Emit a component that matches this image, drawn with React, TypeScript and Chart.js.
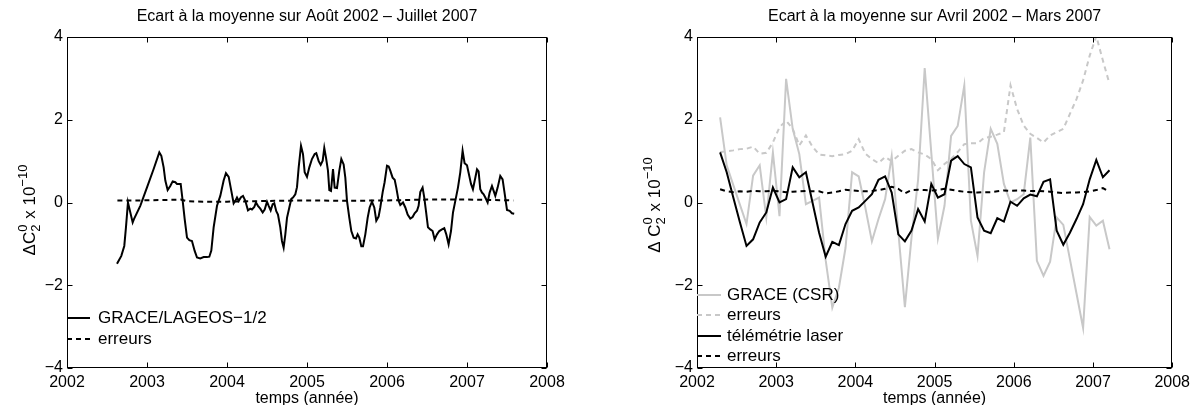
import React, { useEffect, useRef } from "react";
import { Chart, registerables } from "chart.js";

Chart.register(...registerables);

const FONT = '"Liberation Sans", Arial, Helvetica, sans-serif';

// ---------- shared axes ----------
const xTickYears = [2002, 2003, 2004, 2005, 2006, 2007, 2008];
const yTickValues = [-4, -2, 0, 2, 4];

// ---------- left chart: GRACE/LAGEOS-1/2 (Août 2002 – Juillet 2007) ----------
const leftTitle = "Ecart à la moyenne sur Août 2002 – Juillet 2007";
const leftSeriesLabel = "GRACE/LAGEOS−1/2";
const leftYears = [
  2002.625, 2002.679, 2002.716, 2002.737, 2002.762, 2002.821, 2002.837, 2002.916, 2002.999, 2003.083,
  2003.154, 2003.179, 2003.208, 2003.229, 2003.258, 2003.291, 2003.321, 2003.354, 2003.375, 2003.421,
  2003.446, 2003.471, 2003.5, 2003.529, 2003.562, 2003.596, 2003.625, 2003.666, 2003.708, 2003.75,
  2003.779, 2003.804, 2003.833, 2003.875, 2003.916, 2003.958, 2003.987, 2004.021, 2004.054, 2004.083,
  2004.104, 2004.125, 2004.146, 2004.175, 2004.2, 2004.229, 2004.262, 2004.291, 2004.312, 2004.341,
  2004.362, 2004.387, 2004.416, 2004.446, 2004.471, 2004.5, 2004.521, 2004.546, 2004.571, 2004.591,
  2004.616, 2004.637, 2004.666, 2004.687, 2004.708, 2004.729, 2004.75, 2004.779, 2004.804, 2004.825,
  2004.854, 2004.875, 2004.896, 2004.925, 2004.95, 2004.971, 2005.0, 2005.029, 2005.062, 2005.096,
  2005.116, 2005.146, 2005.171, 2005.196, 2005.216, 2005.237, 2005.262, 2005.279, 2005.3, 2005.325,
  2005.346, 2005.375, 2005.404, 2005.429, 2005.458, 2005.479, 2005.5, 2005.529, 2005.554, 2005.583,
  2005.612, 2005.633, 2005.654, 2005.679, 2005.7, 2005.729, 2005.758, 2005.783, 2005.812, 2005.841,
  2005.866, 2005.895, 2005.916, 2005.946, 2005.97, 2006.0, 2006.021, 2006.041, 2006.07, 2006.096,
  2006.116, 2006.145, 2006.166, 2006.2, 2006.229, 2006.258, 2006.291, 2006.32, 2006.345, 2006.375,
  2006.395, 2006.416, 2006.445, 2006.466, 2006.487, 2006.512, 2006.541, 2006.57, 2006.595, 2006.625,
  2006.654, 2006.687, 2006.716, 2006.741, 2006.77, 2006.8, 2006.825, 2006.854, 2006.887, 2006.916,
  2006.945, 2006.97, 2007.0, 2007.02, 2007.05, 2007.074, 2007.104, 2007.125, 2007.145, 2007.166,
  2007.187, 2007.208, 2007.229, 2007.258, 2007.283, 2007.312, 2007.333, 2007.354, 2007.383, 2007.416,
  2007.445, 2007.466, 2007.5, 2007.533, 2007.562, 2007.59,
];
const leftValues = [
  -1.48, -1.29, -1.05, -0.6, 0.0, -0.48, -0.4, -0.08, 0.36, 0.81,
  1.21, 1.13, 0.85, 0.53, 0.3, 0.4, 0.51, 0.49, 0.45, 0.45,
  0.04, -0.4, -0.85, -0.91, -0.93, -1.17, -1.33, -1.35, -1.32, -1.32,
  -1.31, -1.16, -0.6, -0.08, 0.16, 0.53, 0.71, 0.62, 0.28, -0.02,
  0.04, 0.12, 0.04, 0.13, 0.16, 0.04, -0.19, -0.15, -0.17, -0.11,
  0.0, -0.08, -0.15, -0.24, -0.17, 0.02, -0.08, -0.19, -0.04, -0.02,
  -0.21, -0.29, -0.6, -0.93, -1.09, -0.77, -0.37, -0.12, 0.09, 0.12,
  0.2, 0.37, 0.85, 1.37, 1.17, 0.73, 0.62, 0.85, 1.05, 1.17,
  1.19, 1.0, 0.91, 1.01, 1.32, 1.09, 0.77, 0.3, 0.28, 0.81,
  0.36, 0.35, 0.77, 1.05, 0.92, 0.6, 0.04, -0.37, -0.69, -0.85,
  -0.87, -0.77, -0.85, -1.06, -1.06, -0.77, -0.37, -0.12, 0.02, -0.12,
  -0.44, -0.34, -0.12, 0.25, 0.49, 0.89, 0.87, 0.77, 0.6, 0.55,
  0.36, 0.04, -0.06, 0.0, -0.12, -0.29, -0.39, -0.35, -0.26, -0.2,
  -0.08, 0.25, 0.36, 0.12, -0.2, -0.6, -0.65, -0.69, -0.89, -0.77,
  -0.69, -0.65, -0.62, -0.77, -1.01, -0.69, -0.24, 0.04, 0.36, 0.73,
  1.25, 0.95, 0.9, 0.72, 0.45, 0.32, 0.6, 0.8, 0.75, 0.32,
  0.24, 0.2, 0.12, 0.0, 0.24, 0.4, 0.28, 0.16, 0.36, 0.64,
  0.56, 0.28, -0.18, -0.2, -0.26, -0.27,
];
const leftErrYears = [2002.63, 2002.9, 2003.2, 2003.42, 2003.5, 2003.7, 2004.0, 2004.3, 2004.6, 2005.0, 2005.5, 2006.0, 2006.5, 2007.0, 2007.58];
const leftErrValues = [0.05, 0.05, 0.06, 0.07, 0.03, 0.02, 0.02, 0.03, 0.04, 0.05, 0.04, 0.05, 0.07, 0.07, 0.05];

// ---------- right chart: monthly, Avril 2002 – Mars 2007 ----------
const rightTitle = "Ecart à la moyenne sur Avril 2002 – Mars 2007";
const rightFirstYear = 2002;
const rightFirstMonth = 4; // April
const graceValues = [
  2.06, 0.9, 0.42, -0.05, -0.52, 0.65, 0.9, -0.36, 1.21, -0.33,
  2.99, 1.78, 1.17, -0.04, 0.04, 0.12, -1.4, -2.54, -2.06, -1.1,
  0.73, 0.63, -0.12, -0.94, -0.4, 0.08, 1.12, -0.7, -2.53, -0.85,
  0.55, 3.25, 1.2, -0.87, -0.08, 1.61, 1.85, 2.83, -0.44, -1.29,
  0.73, 1.78, 1.42, 0.45, 0.0, 0.08, 0.2, 1.57, -1.41, -1.77,
  -1.43, -0.36, -0.54, -1.37, -2.2, -3.03, -0.35, -0.56, -0.44, -1.13,
];
const graceErrors = [
  1.22, 1.24, 1.26, 1.29, 1.3, 1.35, 1.18, 1.2, 1.45, 1.82,
  1.98, 1.78, 1.38, 1.62, 1.35, 1.16, 1.14, 1.12, 1.15, 1.17,
  1.25, 1.53, 1.18, 1.05, 0.95, 1.1, 1.0, 1.13, 1.25, 1.29,
  1.21, 1.16, 1.05, 0.78, 0.93, 1.05, 1.22, 1.41, 1.43, 1.43,
  1.56, 1.59, 1.64, 1.7, 2.83, 2.26, 1.86, 1.66, 1.56, 1.45,
  1.62, 1.7, 1.78, 2.14, 2.5, 2.95, 3.55, 4.02, 3.43, 2.87,
];
const laserValues = [
  1.21, 0.73, 0.12, -0.48, -1.05, -0.89, -0.48, -0.24, 0.36, 0.0,
  0.08, 0.85, 0.61, 0.73, 0.0, -0.73, -1.31, -0.95, -1.03, -0.52,
  -0.2, -0.12, 0.04, 0.2, 0.55, 0.63, 0.24, -0.77, -0.94, -0.68,
  -0.16, -0.46, 0.45, 0.12, 0.2, 1.01, 1.12, 0.93, 0.85, -0.36,
  -0.68, -0.74, -0.38, -0.46, 0.02, -0.08, 0.1, 0.19, 0.15, 0.5,
  0.56, -0.68, -1.02, -0.73, -0.4, -0.04, 0.56, 1.03, 0.61, 0.78,
];
const laserErrors = [
  0.32, 0.27, 0.25, 0.27, 0.26, 0.28, 0.27, 0.27, 0.28, 0.27,
  0.25, 0.26, 0.27, 0.28, 0.27, 0.27, 0.22, 0.24, 0.27, 0.31,
  0.29, 0.28, 0.27, 0.28, 0.3, 0.33, 0.38, 0.33, 0.22, 0.3,
  0.31, 0.3, 0.29, 0.3, 0.33, 0.31, 0.28, 0.26, 0.25, 0.24,
  0.25, 0.25, 0.27, 0.29, 0.28, 0.29, 0.29, 0.28, 0.28, 0.27,
  0.26, 0.24, 0.23, 0.24, 0.24, 0.25, 0.27, 0.3, 0.35, 0.26,
];
const rightLabels = ["GRACE (CSR)", "erreurs", "télémétrie laser", "erreurs"];

// mid-month decimal year for monthly samples
const monthYears = graceValues.map((_, i) => rightFirstYear + (rightFirstMonth - 1 + i + 0.5) / 12);

const pts = (xs: number[], ys: number[]) => ys.map((y, i) => ({ x: xs[i], y }));

const GRAY = "#c8c8c8";
const BLACK = "#000000";

// ---------- decoration plugin (Matlab-like box, inward ticks, title, y label, legend) ----------
const decorPlugin = {
  id: "decor",
  afterDraw(chart: any, _args: any, o: any) {
    const { ctx, chartArea: a, scales } = chart;
    ctx.save();
    // frame
    const L = Math.round(a.left) + 0.5;
    const R = Math.round(a.right) - 0.5;
    const T = Math.round(a.top) + 0.5;
    const B = Math.round(a.bottom) - 0.5;
    ctx.strokeStyle = "#000";
    ctx.lineWidth = 1;
    ctx.setLineDash([]);
    ctx.strokeRect(L, T, R - L, B - T);
    const tl = 5;
    ctx.beginPath();
    for (const t of scales.x.ticks) {
      const px = Math.round(scales.x.getPixelForValue(t.value)) + 0.5;
      ctx.moveTo(px, B);
      ctx.lineTo(px, B - tl);
      ctx.moveTo(px, T);
      ctx.lineTo(px, T + tl);
    }
    for (const t of scales.y.ticks) {
      const py = Math.round(scales.y.getPixelForValue(t.value)) + 0.5;
      ctx.moveTo(L, py);
      ctx.lineTo(L + tl, py);
      ctx.moveTo(R, py);
      ctx.lineTo(R - tl, py);
    }
    ctx.stroke();

    // title
    ctx.fillStyle = "#000";
    ctx.font = `16px ${FONT}`;
    ctx.textAlign = "center";
    ctx.textBaseline = "alphabetic";
    ctx.fillText(o.title, (a.left + a.right) / 2, o.titleY);

    // y label: Δ C^0_2 x 10^-10 (rotated)
    const main = `17px ${FONT}`;
    const small = `13px ${FONT}`;
    ctx.font = main;
    const w1 = ctx.measureText(o.deltaC).width;
    const w3 = ctx.measureText(" x 10").width;
    ctx.font = small;
    const w2 = Math.max(ctx.measureText("0").width, ctx.measureText("2").width);
    const w4 = ctx.measureText("−10").width;
    const total = w1 + w2 + 1 + w3 + w4;
    ctx.translate(o.yLabelX, o.yLabelY);
    ctx.rotate(-Math.PI / 2);
    ctx.textAlign = "left";
    let cx = -total / 2;
    ctx.font = main;
    ctx.fillText(o.deltaC, cx, 0);
    cx += w1;
    ctx.font = small;
    ctx.fillText("0", cx, -8);
    ctx.fillText("2", cx, 5);
    cx += w2 + 1;
    ctx.font = main;
    ctx.fillText(" x 10", cx, 0);
    cx += w3;
    ctx.font = small;
    ctx.fillText("−10", cx, -8);
    ctx.setTransform(1, 0, 0, 1, 0, 0);

    // legend (no box)
    const ds = chart.data.datasets;
    ctx.font = `17px ${FONT}`;
    ctx.textAlign = "left";
    ctx.textBaseline = "middle";
    o.legendY.forEach((y: number, i: number) => {
      const d = ds[i];
      ctx.strokeStyle = d.borderColor;
      ctx.lineWidth = d.borderWidth;
      ctx.setLineDash(d.borderDash || []);
      ctx.beginPath();
      ctx.moveTo(a.left + o.legendX0, y);
      ctx.lineTo(a.left + o.legendX1, y);
      ctx.stroke();
      ctx.fillStyle = "#000";
      ctx.fillText(d.label, a.left + o.legendTextX, y);
    });
    ctx.restore();
  },
};

function buildConfig(spec: any) {
  return {
    type: "line",
    data: { datasets: spec.datasets },
    options: {
      responsive: false,
      animation: false,
      devicePixelRatio: 1,
      layout: { padding: spec.padding },
      elements: { point: { radius: 0 }, line: { tension: 0 } },
      scales: {
        x: {
          type: "linear",
          min: xTickYears[0],
          max: xTickYears[xTickYears.length - 1],
          afterBuildTicks: (s: any) => {
            s.ticks = xTickYears.map((v) => ({ value: v }));
          },
          ticks: {
            font: { family: FONT, size: 16 },
            color: "#000",
            padding: 5,
            maxRotation: 0,
            autoSkip: false,
            callback: (v: any) => String(v),
          },
          grid: { display: false, drawTicks: false },
          border: { display: false },
          title: {
            display: true,
            text: "temps (année)",
            font: { family: FONT, size: 16, lineHeight: 0.8 },
            color: "#000",
            padding: 0,
          },
          afterFit: (s: any) => {
            s.height = spec.xAxisHeight;
          },
        },
        y: {
          type: "linear",
          min: yTickValues[0],
          max: yTickValues[yTickValues.length - 1],
          afterBuildTicks: (s: any) => {
            s.ticks = yTickValues.map((v) => ({ value: v }));
          },
          ticks: {
            font: { family: FONT, size: 16 },
            color: "#000",
            padding: 4,
            callback: (v: any) => (v < 0 ? "−" + Math.abs(v) : String(v)),
          },
          grid: { display: false, drawTicks: false },
          border: { display: false },
          afterFit: (s: any) => {
            s.width = spec.yAxisWidth;
          },
        },
      },
      plugins: {
        legend: { display: false },
        tooltip: { enabled: false },
        decor: spec.decor,
      },
    },
    plugins: [decorPlugin],
  };
}

function Panel({ left, width, spec }: { left: number; width: number; spec: any }) {
  const ref = useRef<HTMLCanvasElement>(null);
  useEffect(() => {
    const chart = new Chart(ref.current as HTMLCanvasElement, buildConfig(spec) as any);
    return () => chart.destroy();
  }, []);
  return (
    <canvas
      ref={ref}
      width={width}
      height={405}
      style={{ position: "absolute", left, top: 0, width, height: 405 }}
    />
  );
}

const leftSpec = {
  padding: { left: 0, right: 50, top: 37, bottom: 0 },
  yAxisWidth: 67,
  xAxisHeight: 37,
  datasets: [
    {
      label: leftSeriesLabel,
      data: pts(leftYears, leftValues),
      borderColor: BLACK,
      borderWidth: 2,
      order: 1,
    },
    {
      label: "erreurs",
      data: pts(leftErrYears, leftErrValues),
      borderColor: BLACK,
      borderWidth: 2,
      borderDash: [5, 4],
      order: 2,
    },
  ],
  decor: {
    title: leftTitle,
    titleY: 21,
    deltaC: "ΔC",
    yLabelX: 35,
    yLabelY: 210,
    legendX0: 0,
    legendX1: 23,
    legendTextX: 31,
    legendY: [318, 339],
  },
};

const rightSpec = {
  padding: { left: 0, right: 18, top: 37, bottom: 0 },
  yAxisWidth: 100,
  xAxisHeight: 37,
  datasets: [
    {
      label: rightLabels[0],
      data: pts(monthYears, graceValues),
      borderColor: GRAY,
      borderWidth: 2,
      order: 3,
    },
    {
      label: rightLabels[1],
      data: pts(monthYears, graceErrors),
      borderColor: GRAY,
      borderWidth: 2,
      borderDash: [5, 4],
      order: 4,
    },
    {
      label: rightLabels[2],
      data: pts(monthYears, laserValues),
      borderColor: BLACK,
      borderWidth: 2,
      order: 1,
    },
    {
      label: rightLabels[3],
      data: pts(monthYears, laserErrors),
      borderColor: BLACK,
      borderWidth: 2,
      borderDash: [5, 4],
      order: 2,
    },
  ],
  decor: {
    title: rightTitle,
    titleY: 21,
    deltaC: "Δ C",
    yLabelX: 63,
    yLabelY: 205,
    legendX0: 0,
    legendX1: 24,
    legendTextX: 30,
    legendY: [295, 315, 336, 356],
  },
};

export default function App() {
  return (
    <div
      style={{
        position: "fixed",
        left: 0,
        top: 0,
        width: 1195,
        height: 405,
        background: "#fff",
        overflow: "hidden",
      }}
    >
      <Panel left={0} width={597} spec={leftSpec} />
      <Panel left={597} width={598} spec={rightSpec} />
    </div>
  );
}
